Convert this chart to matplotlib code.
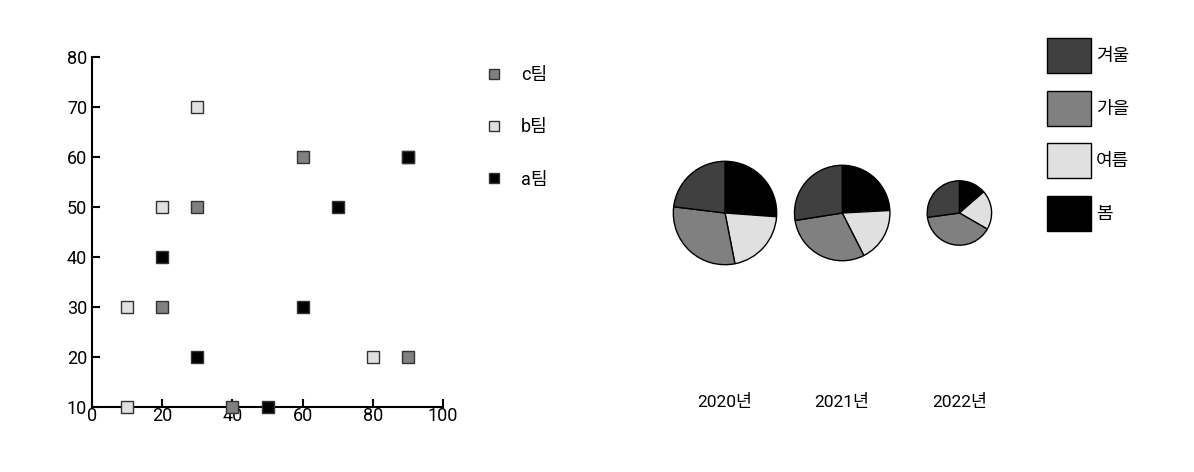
import matplotlib
matplotlib.use("Agg")
import matplotlib.pyplot as plt
from matplotlib.lines import Line2D
from matplotlib.patches import Patch

plt.rcParams['font.family'] = ['Roboto', 'Noto Sans CJK KR', 'DejaVu Sans']

# ---- scatter data ----
team_names = ['c팀', 'b팀', 'a팀']
team_colors = ['#808080', '#e0e0e0', '#000000']
c_x = [20, 30, 40, 60, 90, 90]
c_y = [30, 50, 10, 60, 20, 60]
b_x = [10, 10, 20, 30, 80]
b_y = [30, 10, 50, 70, 20]
a_x = [20, 30, 50, 60, 70, 90]
a_y = [40, 20, 10, 30, 50, 60]
x_ticks = [0, 20, 40, 60, 80, 100]
y_ticks = [10, 20, 30, 40, 50, 60, 70, 80]

# ---- pie data ----
years = ['2020년', '2021년', '2022년']
seasons = ['봄', '여름', '가을', '겨울']
season_colors = ['#000000', '#e0e0e0', '#808080', '#404040']
spring = [34, 29, 11]
summer = [27, 22, 16]
autumn = [39, 36, 32]
winter = [30, 33, 22]

W, H = 1194, 472
fig = plt.figure(figsize=(W / 100, H / 100), dpi=100)

def px_axes(left, top, width, height):
    return fig.add_axes([left / W, 1 - (top + height) / H, width / W, height / H])

# scatter
ax = px_axes(92, 57, 351, 350)
series = [(c_x, c_y), (b_x, b_y), (a_x, a_y)]
for (xs, ys), name, col in zip(series, team_names, team_colors):
    ax.plot(xs, ys, linestyle='none', marker='s', markersize=8.6,
            markerfacecolor=col, markeredgecolor='#333333', markeredgewidth=1.0,
            clip_on=False, label=name, zorder=3)
ax.set_xlim(0, 100)
ax.set_ylim(10, 80)
ax.set_xticks(x_ticks)
ax.set_yticks(y_ticks)
for s in ['top', 'right']:
    ax.spines[s].set_visible(False)
for s in ['left', 'bottom']:
    ax.spines[s].set_linewidth(1.5)
    ax.spines[s].set_color('black')
ax.tick_params(direction='in', length=6, width=1.5, labelsize=13)
ax.tick_params(axis='y', pad=3.5)
ax.tick_params(axis='x', pad=0)
handles = [Line2D([], [], linestyle='none', marker='s', markersize=7.2,
                  markerfacecolor=c, markeredgecolor='#333333', markeredgewidth=1.0)
           for c in team_colors]
fig.legend(handles, team_names, loc='upper left',
           bbox_to_anchor=(476 / W, 1 - 66 / H), frameon=False,
           fontsize=13, labelspacing=1.9, handletextpad=0.5, borderpad=0,
           borderaxespad=0)

# pies
pax = px_axes(660, 140, 360, 150)
pax.set_xlim(0, 360)
pax.set_ylim(0, 150)
pax.set_aspect('equal')
pax.axis('off')
totals = [sp + su + au + wi for sp, su, au, wi in zip(spring, summer, autumn, winter)]
max_total = max(totals)
R = 51.7
for i, yr in enumerate(years):
    vals = [spring[i], summer[i], autumn[i], winter[i]]
    r = R * totals[i] / max_total
    cx = 65 + i * 117.2
    cy = 77
    pax.pie(vals, colors=season_colors, startangle=90, counterclock=False,
            center=(cx, cy), radius=r,
            wedgeprops=dict(edgecolor='black', linewidth=1.0))
    fig.text((cx + 660) / W, 1 - 402 / H, yr, ha='center', va='center', fontsize=12.5)
pax.set_xlim(0, 360)
pax.set_ylim(0, 150)

phandles = [Patch(facecolor=season_colors[k], edgecolor='black', linewidth=1.0)
            for k in [3, 2, 1, 0]]
plabels = [seasons[k] for k in [3, 2, 1, 0]]
fig.legend(phandles, plabels, loc='upper left',
           bbox_to_anchor=(1047 / W, 1 - 38 / H), frameon=False,
           fontsize=13, handlelength=2.44, handleheight=2.6,
           labelspacing=0.98, handletextpad=0.28, borderpad=0, borderaxespad=0)

fig.savefig('out.png', dpi=100)
